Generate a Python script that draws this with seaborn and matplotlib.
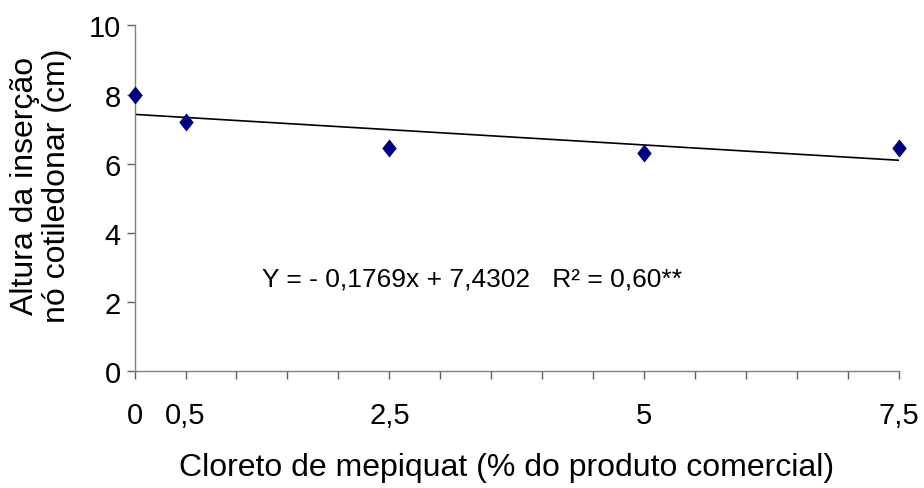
import matplotlib
matplotlib.use("Agg")
import matplotlib.pyplot as plt
import seaborn as sns
import numpy as np
import pandas as pd
from matplotlib.ticker import MultipleLocator, FixedLocator

doses = [0, 0.5, 2.5, 5, 7.5]
altura = [8.0, 7.22, 6.47, 6.3, 6.47]
xtick_labels = ["0", "0,5", "2,5", "5", "7,5"]
ytick_values = [0, 2, 4, 6, 8, 10]
slope = -0.1769
intercept = 7.4302
equation = "Y = - 0,1769x + 7,4302   R² = 0,60**"

sns.set_style("white")
plt.rcParams['font.family'] = ['Liberation Sans', 'DejaVu Sans']
plt.rcParams['text.color'] = 'black'
plt.rcParams['axes.labelcolor'] = 'black'
plt.rcParams['xtick.color'] = 'black'
plt.rcParams['ytick.color'] = 'black'

fig = plt.figure(figsize=(9.24, 4.89), dpi=100)
ax = fig.add_axes([0.1456, 0.2383, 0.8274, 0.7076])

df = pd.DataFrame({"dose": doses, "altura": altura})
xl = np.array([doses[0], doses[-1]])
sns.lineplot(x=xl, y=intercept + slope * xl, color="black", lw=1.2, ax=ax)
diamond = [(0, 1), (0.8, 0), (0, -1), (-0.8, 0), (0, 1)]
sns.scatterplot(data=df, x="dose", y="altura", marker=diamond, s=170, color="#000080",
                edgecolor="#000080", linewidth=0, ax=ax, zorder=3, clip_on=False)

ax.set_xlim(0, 7.5)
ax.set_ylim(0, 10)
ax.xaxis.set_major_locator(FixedLocator(doses))
ax.set_xticklabels(xtick_labels)
ax.xaxis.set_minor_locator(MultipleLocator(0.5))
ax.set_yticks(ytick_values)
ax.set_yticklabels([str(v) for v in ytick_values])
ax.set_xlabel("")
ax.set_ylabel("")

for s in ["top", "right"]:
    ax.spines[s].set_visible(False)
for s in ["left", "bottom"]:
    ax.spines[s].set_color("#808080")
    ax.spines[s].set_linewidth(1.0)

ax.tick_params(axis="x", which="both", bottom=True, direction="out", length=6,
               color="#606060", width=1.0, labelsize=21, pad=15)
ax.tick_params(axis="y", which="major", left=True, direction="out", length=6,
               width=1.0, color="#606060", labelsize=21, pad=4)

fig.text(507 / 924, 1 - 468 / 489, "Cloreto de mepiquat (% do produto comercial)",
         fontsize=23, ha="center", va="center")
fig.text(41 / 924, 1 - 186 / 489, "Altura da inserção\nnó cotiledonar (cm)",
         fontsize=23, rotation=90, ha="center", va="center", linespacing=1.05,
         multialignment="center")

ax.text(1.25, 2.48, equation, fontsize=19, va="baseline", ha="left")

fig.savefig("out.png", dpi=100)
